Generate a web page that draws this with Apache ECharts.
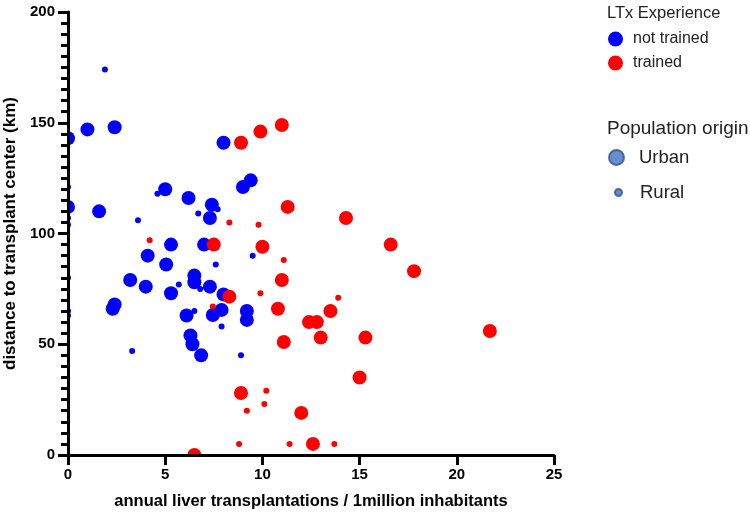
<!DOCTYPE html>
<html>
<head>
<meta charset="utf-8">
<script src="https://cdn.jsdelivr.net/npm/echarts@6/dist/echarts.min.js"></script>
<style>html,body{margin:0;padding:0;background:#fff;}#c{width:750px;height:515px;}</style>
</head>
<body>
<div id="c"></div>
<script>
// --- data ---
var xTicks = [0, 5, 10, 15, 20, 25];
var yTicks = [0, 50, 100, 150, 200];
var notTrainedUrban = [[0,143],[1.0,147],[2.4,148],[5.0,120],[0,112],[1.6,110],[6.2,116],[7.4,113],[7.3,107],[9.4,124],[9.0,121],[8.0,141],[4.1,90],[5.3,95],[5.05,86],[7.0,95],[3.2,79],[4.0,76],[2.4,68],[2.3,66],[6.5,81],[6.5,78],[7.3,76],[5.3,73],[8.0,72.5],[7.9,65.5],[7.45,63.2],[6.1,63],[9.2,65],[9.2,61],[6.3,54],[6.4,50],[6.85,45]];
var notTrainedRural = [[1.9,174],[0,121],[4.6,118],[3.6,106],[0,107],[0,104],[6.7,109],[7.7,111],[9.5,90],[7.6,86],[0,80],[5.7,77],[6.8,75],[6.5,65],[0,65],[0,63],[3.3,47],[7.9,58],[8.9,45]];
var trainedUrban = [[8.9,141],[9.9,146],[11.0,149],[11.3,112],[7.5,95],[10.0,94],[11.0,79],[8.3,71.5],[10.8,66],[12.4,60],[12.8,60],[13.5,65],[13.0,53],[11.1,51],[14.3,107],[16.6,95],[17.8,83],[15.3,53],[15.0,35],[21.7,56],[8.9,28],[12.0,19],[12.6,5],[6.5,0]];
var trainedRural = [[4.2,97],[8.3,105],[9.8,104],[11.1,88],[9.9,73],[7.45,67],[13.9,71],[10.2,29],[10.1,23],[9.2,20],[8.8,5],[11.4,5],[13.7,5]];
var experienceNames = ['not trained', 'trained'];
var originNames = ['Urban', 'Rural'];

var FONT = '"Liberation Sans", Arial, sans-serif';
var chart = echarts.init(document.getElementById('c'), null, {renderer: 'canvas'});
var BIG = 14, SMALL = 6;
var option = {
  animation: false,
  backgroundColor: '#fff',
  title: [
    {text: 'LTx Experience', left: 602, top: 0, textStyle: {fontFamily: FONT, fontSize: 16.5, fontWeight: 'normal', color: '#222'}},
    {text: 'Population origin', left: 602, top: 114, textStyle: {fontFamily: FONT, fontSize: 19, fontWeight: 'normal', color: '#222'}}
  ],
  legend: [
    {data: experienceNames, orient: 'vertical', left: 608, top: 31, icon: 'circle', itemWidth: 15, itemHeight: 15, itemGap: 8, padding: 0,
     textStyle: {fontFamily: FONT, fontSize: 16, color: '#222', padding: [0, 0, 0, 5]}},
    {data: [originNames[0]], orient: 'vertical', left: 608, top: 148, icon: 'circle', itemWidth: 17, itemHeight: 15, padding: 0,
     textStyle: {fontFamily: FONT, fontSize: 18.5, color: '#222', padding: [0, 0, 0, 9]}},
    {data: [originNames[1]], orient: 'vertical', left: 614, top: 183, icon: 'circle', itemWidth: 7, itemHeight: 7, padding: 0,
     textStyle: {fontFamily: FONT, fontSize: 18.5, color: '#222', padding: [0, 0, 0, 13]}}
  ],
  grid: {left: 68, right: 196, top: 12, bottom: 60, outerBoundsMode: 'none', containLabel: false},
  xAxis: {
    type: 'value', min: xTicks[0], max: xTicks[xTicks.length - 1], interval: 5, z: 10,
    name: 'annual liver transplantations / 1million inhabitants', nameLocation: 'middle', nameGap: 38,
    nameTextStyle: {fontFamily: FONT, fontSize: 16.5, fontWeight: 'bold', color: '#000'},
    axisLine: {show: true, onZero: false, lineStyle: {color: '#000', width: 3}},
    axisTick: {show: true, length: 10, lineStyle: {color: '#000', width: 3}},
    axisLabel: {fontFamily: FONT, fontSize: 15, fontWeight: 'bold', color: '#000', margin: 12},
    splitLine: {show: false}
  },
  yAxis: {
    type: 'value', min: yTicks[0], max: yTicks[yTicks.length - 1], interval: 50, z: 10,
    name: 'distance to transplant center (km)', nameLocation: 'middle', nameGap: 47,
    nameTextStyle: {fontFamily: FONT, fontSize: 17, fontWeight: 'bold', color: '#000'},
    axisLine: {show: true, onZero: false, lineStyle: {color: '#000', width: 3}},
    axisTick: {show: true, length: 10, lineStyle: {color: '#000', width: 3}},
    minorTick: {show: true, splitNumber: 10, length: 7, lineStyle: {color: '#000', width: 3}},
    axisLabel: {fontFamily: FONT, fontSize: 15, fontWeight: 'bold', color: '#000', margin: 13},
    splitLine: {show: false}
  },
  series: [
    {name: experienceNames[0], type: 'scatter', data: notTrainedUrban, symbolSize: BIG, itemStyle: {color: '#0000ff', opacity: 1}},
    {name: experienceNames[0], type: 'scatter', data: notTrainedRural, symbolSize: SMALL, itemStyle: {color: '#0000ff', opacity: 1}},
    {name: experienceNames[1], type: 'scatter', data: trainedUrban, symbolSize: BIG, itemStyle: {color: '#ff0000', opacity: 1}},
    {name: experienceNames[1], type: 'scatter', data: trainedRural, symbolSize: SMALL, itemStyle: {color: '#ff0000', opacity: 1}},
    {name: originNames[0], type: 'scatter', data: [], itemStyle: {color: '#4472c4', borderColor: '#2f528f', borderWidth: 1}},
    {name: originNames[1], type: 'scatter', data: [], itemStyle: {color: '#4472c4', borderColor: '#2f528f', borderWidth: 1}}
  ]
};
chart.setOption(option);
// mask marks outside the plotting rectangle (half-cut points on the axes)
var origin = chart.convertToPixel({gridIndex: 0}, [xTicks[0], yTicks[0]]);
chart.setOption({
  graphic: [
    {type: 'rect', z: 5, silent: true, shape: {x: 0, y: 0, width: origin[0], height: 515}, style: {fill: '#fff'}},
    {type: 'rect', z: 5, silent: true, shape: {x: 0, y: origin[1], width: 600, height: 515 - origin[1]}, style: {fill: '#fff'}}
  ]
});
</script>
</body>
</html>
